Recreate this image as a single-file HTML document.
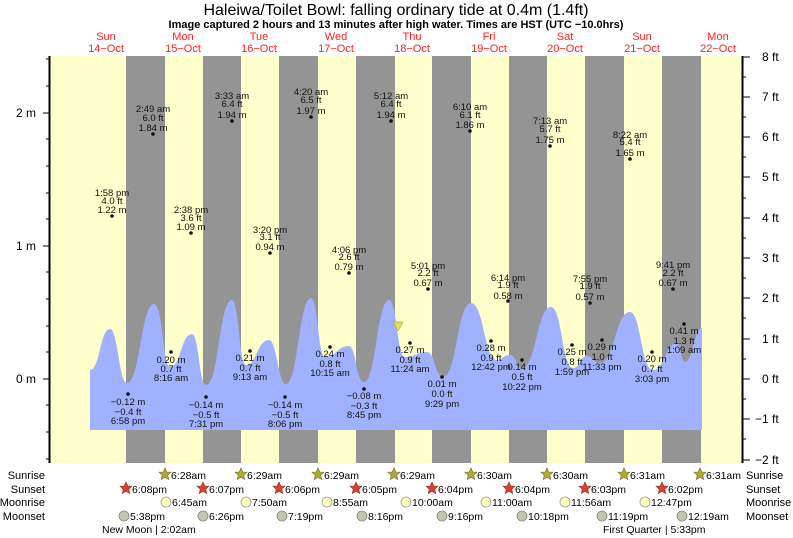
<!DOCTYPE html>
<html><head><meta charset="utf-8"><style>
html,body{margin:0;padding:0;background:#fff}
svg{display:block;font-family:"Liberation Sans",sans-serif}
</style></head><body>
<svg width="793" height="538" viewBox="0 0 793 538">
<text x="396" y="15" font-size="16" text-anchor="middle">Haleiwa/Toilet Bowl: falling  ordinary tide at 0.4m (1.4ft)</text>
<text x="396" y="28" font-size="11" font-weight="bold" text-anchor="middle">Image captured 2 hours and 13 minutes after high water. Times are HST (UTC −10.0hrs)</text>
<g fill="#ff2020" font-size="11" text-anchor="middle">
<text x="106" y="40">Sun</text><text x="106" y="52">14−Oct</text>
<text x="183" y="40">Mon</text><text x="183" y="52">15−Oct</text>
<text x="259" y="40">Tue</text><text x="259" y="52">16−Oct</text>
<text x="336" y="40">Wed</text><text x="336" y="52">17−Oct</text>
<text x="412" y="40">Thu</text><text x="412" y="52">18−Oct</text>
<text x="489" y="40">Fri</text><text x="489" y="52">19−Oct</text>
<text x="565" y="40">Sat</text><text x="565" y="52">20−Oct</text>
<text x="642" y="40">Sun</text><text x="642" y="52">21−Oct</text>
<text x="718" y="40">Mon</text><text x="718" y="52">22−Oct</text>
</g>
<rect x="50" y="56" width="692" height="407" fill="#ffffcc"/>
<g fill="#949494">
<rect x="126" y="56" width="39" height="407"/><rect x="203" y="56" width="38" height="407"/>
<rect x="279" y="56" width="39" height="407"/><rect x="356" y="56" width="39" height="407"/>
<rect x="432" y="56" width="39" height="407"/><rect x="509" y="56" width="38" height="407"/>
<rect x="585" y="56" width="39" height="407"/><rect x="662" y="56" width="39" height="407"/>
</g>
<path fill="#a0b2ff" d="M90,430 L90,370 C100,370 100,329 110,329 C118,329 119,383 127,383 C140,383 141,304 154,304 C163,304 163,367 170,367 C181,367 181,334 192,334 C199,334 199,385 206,385 C219,385 219,300 232,300 C239,300 239,365 246,365 C257,365 257,340 269,340 C277,340 278,384 286,384 C298,384 299,298 311,298 C318,298 318,357 325,357 C337,357 337,346 349,346 C356,346 356,382 364,382 C376,382 377,300 389,300 C397,300 397,357 405,357 C416,357 416,352 427,352 C435,352 435,377 443,377 C457,377 457,303 471,303 C484,303 484,360 497,360 C503,360 503,355 510,355 C516,355 516,368 522,368 C536,368 537,307 551,307 C562,307 562,368 573,368 C580,368 580,356 587,356 C593,356 593,363 600,363 C615,363 615,312 630,312 C641,312 641,370 653,370 C665,370 665,343 677,343 C681,343 681,362 685,362 C693,362 694,328 702,328 L702,430 Z"/>
<path d="M393,322 L403,322 L398,331 Z" fill="#e6e040" stroke="#888" stroke-width="0.5"/>
<line x1="49.5" y1="56" x2="49.5" y2="463" stroke="#000" stroke-width="2"/>
<line x1="742.5" y1="56" x2="742.5" y2="463" stroke="#000" stroke-width="2"/>
<g stroke="#000" stroke-width="1">
<line x1="43" y1="113" x2="49" y2="113"/><line x1="43" y1="246" x2="49" y2="246"/><line x1="43" y1="379" x2="49" y2="379"/>
<line x1="46" y1="59" x2="49" y2="59"/><line x1="46" y1="86" x2="49" y2="86"/><line x1="46" y1="139" x2="49" y2="139"/><line x1="46" y1="166" x2="49" y2="166"/><line x1="46" y1="193" x2="49" y2="193"/><line x1="46" y1="219" x2="49" y2="219"/><line x1="46" y1="272" x2="49" y2="272"/><line x1="46" y1="299" x2="49" y2="299"/><line x1="46" y1="326" x2="49" y2="326"/><line x1="46" y1="352" x2="49" y2="352"/><line x1="46" y1="405" x2="49" y2="405"/><line x1="46" y1="432" x2="49" y2="432"/><line x1="46" y1="459" x2="49" y2="459"/>
<line x1="743" y1="57" x2="750" y2="57"/><line x1="743" y1="97" x2="750" y2="97"/><line x1="743" y1="137" x2="750" y2="137"/><line x1="743" y1="177" x2="750" y2="177"/><line x1="743" y1="218" x2="750" y2="218"/><line x1="743" y1="258" x2="750" y2="258"/><line x1="743" y1="298" x2="750" y2="298"/><line x1="743" y1="339" x2="750" y2="339"/><line x1="743" y1="379" x2="750" y2="379"/><line x1="743" y1="419" x2="750" y2="419"/><line x1="743" y1="460" x2="750" y2="460"/>
<line x1="743" y1="77" x2="746" y2="77"/><line x1="743" y1="117" x2="746" y2="117"/><line x1="743" y1="157" x2="746" y2="157"/><line x1="743" y1="198" x2="746" y2="198"/><line x1="743" y1="238" x2="746" y2="238"/><line x1="743" y1="278" x2="746" y2="278"/><line x1="743" y1="318" x2="746" y2="318"/><line x1="743" y1="359" x2="746" y2="359"/><line x1="743" y1="399" x2="746" y2="399"/><line x1="743" y1="439" x2="746" y2="439"/>
</g>
<g font-size="12" text-anchor="end"><text x="36" y="117">2 m</text><text x="36" y="250">1 m</text><text x="36" y="383">0 m</text></g>
<g font-size="12"><text x="762" y="61">8 ft</text><text x="762" y="101">7 ft</text><text x="762" y="141">6 ft</text><text x="762" y="181">5 ft</text><text x="762" y="222">4 ft</text><text x="762" y="262">3 ft</text><text x="762" y="302">2 ft</text><text x="762" y="343">1 ft</text><text x="762" y="383">0 ft</text><text x="755" y="423">−1 ft</text><text x="755" y="464">−2 ft</text></g>
<g font-size="9.5" text-anchor="middle" fill="#111">
<circle cx="112" cy="216" r="1.8"/><text x="112" y="196">1:58 pm</text><text x="112" y="204">4.0 ft</text><text x="112" y="213">1.22 m</text>
<circle cx="153" cy="134" r="1.8"/><text x="153" y="112">2:49 am</text><text x="153" y="121">6.0 ft</text><text x="153" y="131">1.84 m</text>
<circle cx="191" cy="233" r="1.8"/><text x="191" y="213">2:38 pm</text><text x="191" y="221">3.6 ft</text><text x="191" y="230">1.09 m</text>
<circle cx="232" cy="121" r="1.8"/><text x="232" y="99">3:33 am</text><text x="232" y="107">6.4 ft</text><text x="232" y="118">1.94 m</text>
<circle cx="270" cy="253" r="1.8"/><text x="270" y="233">3:20 pm</text><text x="270" y="240">3.1 ft</text><text x="270" y="250">0.94 m</text>
<circle cx="311" cy="117" r="1.8"/><text x="311" y="95">4:20 am</text><text x="311" y="103">6.5 ft</text><text x="311" y="114">1.97 m</text>
<circle cx="349" cy="273" r="1.8"/><text x="349" y="253">4:06 pm</text><text x="349" y="260">2.6 ft</text><text x="349" y="270">0.79 m</text>
<circle cx="391" cy="121" r="1.8"/><text x="391" y="99">5:12 am</text><text x="391" y="107">6.4 ft</text><text x="391" y="118">1.94 m</text>
<circle cx="428" cy="289" r="1.8"/><text x="428" y="269">5:01 pm</text><text x="428" y="276">2.2 ft</text><text x="428" y="286">0.67 m</text>
<circle cx="470" cy="131" r="1.8"/><text x="470" y="110">6:10 am</text><text x="470" y="118">6.1 ft</text><text x="470" y="128">1.86 m</text>
<circle cx="508" cy="301" r="1.8"/><text x="508" y="281">6:14 pm</text><text x="508" y="288">1.9 ft</text><text x="508" y="299">0.58 m</text>
<circle cx="550" cy="146" r="1.8"/><text x="550" y="124">7:13 am</text><text x="550" y="132">5.7 ft</text><text x="550" y="143">1.75 m</text>
<circle cx="590" cy="303" r="1.8"/><text x="590" y="282">7:55 pm</text><text x="590" y="289">1.9 ft</text><text x="590" y="300">0.57 m</text>
<circle cx="630" cy="159" r="1.8"/><text x="630" y="138">8:22 am</text><text x="630" y="145">5.4 ft</text><text x="630" y="156">1.65 m</text>
<circle cx="673" cy="289" r="1.8"/><text x="673" y="268">9:41 pm</text><text x="673" y="276">2.2 ft</text><text x="673" y="286">0.67 m</text>
<circle cx="128" cy="394" r="1.8"/><text x="128" y="405">−0.12 m</text><text x="128" y="415">−0.4 ft</text><text x="128" y="424">6:58 pm</text>
<circle cx="171" cy="352" r="1.8"/><text x="171" y="363">0.20 m</text><text x="171" y="372">0.7 ft</text><text x="171" y="381">8:16 am</text>
<circle cx="206" cy="397" r="1.8"/><text x="206" y="408">−0.14 m</text><text x="206" y="418">−0.5 ft</text><text x="206" y="427">7:31 pm</text>
<circle cx="250" cy="351" r="1.8"/><text x="250" y="361">0.21 m</text><text x="250" y="371">0.7 ft</text><text x="250" y="380">9:13 am</text>
<circle cx="285" cy="397" r="1.8"/><text x="285" y="408">−0.14 m</text><text x="285" y="418">−0.5 ft</text><text x="285" y="427">8:06 pm</text>
<circle cx="330" cy="347" r="1.8"/><text x="330" y="357">0.24 m</text><text x="330" y="367">0.8 ft</text><text x="330" y="376">10:15 am</text>
<circle cx="364" cy="389" r="1.8"/><text x="364" y="399">−0.08 m</text><text x="364" y="409">−0.3 ft</text><text x="364" y="418">8:45 pm</text>
<circle cx="410" cy="343" r="1.8"/><text x="410" y="353">0.27 m</text><text x="410" y="363">0.9 ft</text><text x="410" y="372">11:24 am</text>
<circle cx="442" cy="377" r="1.8"/><text x="442" y="387">0.01 m</text><text x="442" y="397">0.0 ft</text><text x="442" y="407">9:29 pm</text>
<circle cx="491" cy="341" r="1.8"/><text x="491" y="351">0.28 m</text><text x="491" y="361">0.9 ft</text><text x="491" y="370">12:42 pm</text>
<circle cx="522" cy="360" r="1.8"/><text x="522" y="370">0.14 m</text><text x="522" y="380">0.5 ft</text><text x="522" y="390">10:22 pm</text>
<circle cx="572" cy="345" r="1.8"/><text x="572" y="355">0.25 m</text><text x="572" y="365">0.8 ft</text><text x="572" y="375">1:59 pm</text>
<circle cx="602" cy="340" r="1.8"/><text x="602" y="350">0.29 m</text><text x="602" y="360">1.0 ft</text><text x="602" y="370">11:33 pm</text>
<circle cx="652" cy="352" r="1.8"/><text x="652" y="362">0.20 m</text><text x="652" y="372">0.7 ft</text><text x="652" y="382">3:03 pm</text>
<circle cx="684" cy="324" r="1.8"/><text x="684" y="334">0.41 m</text><text x="684" y="344">1.3 ft</text><text x="684" y="353">1:09 am</text>
</g>
<g font-size="11" text-anchor="end"><text x="45" y="479">Sunrise</text><text x="45" y="493">Sunset</text><text x="45" y="506">Moonrise</text><text x="45" y="520">Moonset</text></g>
<g font-size="11"><text x="746" y="479">Sunrise</text><text x="746" y="493">Sunset</text><text x="746" y="506">Moonrise</text><text x="746" y="520">Moonset</text></g>
<defs><path id="st" d="M0,-6 L1.8,-2 6,-1.8 2.8,1.2 3.7,5.5 0,3.2 -3.7,5.5 -2.8,1.2 -6,-1.8 -1.8,-2Z"/></defs>
<g fill="#b0a838" stroke="#6f6a20" stroke-width="0.6">
<use href="#st" x="165" y="474"/><use href="#st" x="241" y="474"/><use href="#st" x="318" y="474"/><use href="#st" x="394" y="474"/><use href="#st" x="471" y="474"/><use href="#st" x="547" y="474"/><use href="#st" x="624" y="474"/><use href="#st" x="700" y="474"/>
</g>
<g fill="#d84030" stroke="#8a2a20" stroke-width="0.6">
<use href="#st" x="126" y="488"/><use href="#st" x="203" y="488"/><use href="#st" x="279" y="488"/><use href="#st" x="356" y="488"/><use href="#st" x="432" y="488"/><use href="#st" x="509" y="488"/><use href="#st" x="585" y="488"/><use href="#st" x="662" y="488"/>
</g>
<g font-size="10.5">
<text x="171" y="479">6:28am</text><text x="247" y="479">6:29am</text><text x="324" y="479">6:29am</text><text x="400" y="479">6:29am</text><text x="477" y="479">6:30am</text><text x="553" y="479">6:30am</text><text x="630" y="479">6:31am</text><text x="706" y="479">6:31am</text>
<text x="132" y="493">6:08pm</text><text x="209" y="493">6:07pm</text><text x="285" y="493">6:06pm</text><text x="362" y="493">6:05pm</text><text x="438" y="493">6:04pm</text><text x="515" y="493">6:04pm</text><text x="591" y="493">6:03pm</text><text x="668" y="493">6:02pm</text>
<text x="172" y="506">6:45am</text><text x="252" y="506">7:50am</text><text x="333" y="506">8:55am</text><text x="412" y="506">10:00am</text><text x="492" y="506">11:00am</text><text x="571" y="506">11:56am</text><text x="651" y="506">12:47pm</text>
<text x="130" y="520">5:38pm</text><text x="209" y="520">6:26pm</text><text x="288" y="520">7:19pm</text><text x="368" y="520">8:16pm</text><text x="448" y="520">9:16pm</text><text x="528" y="520">10:18pm</text><text x="608" y="520">11:19pm</text><text x="688" y="520">12:19am</text>
<text x="102" y="533">New Moon | 2:02am</text><text x="603" y="533">First Quarter | 5:33pm</text>
</g>
<g fill="#ffffc0" stroke="#999" stroke-width="0.8">
<circle cx="166" cy="502" r="5"/><circle cx="246" cy="502" r="5"/><circle cx="327" cy="502" r="5"/><circle cx="406" cy="502" r="5"/><circle cx="486" cy="502" r="5"/><circle cx="565" cy="502" r="5"/><circle cx="645" cy="502" r="5"/>
</g>
<g fill="#c4c4b0" stroke="#888" stroke-width="0.8">
<circle cx="124" cy="516" r="5"/><circle cx="203" cy="516" r="5"/><circle cx="282" cy="516" r="5"/><circle cx="362" cy="516" r="5"/><circle cx="442" cy="516" r="5"/><circle cx="522" cy="516" r="5"/><circle cx="602" cy="516" r="5"/><circle cx="682" cy="516" r="5"/>
</g>
</svg>
</body></html>
